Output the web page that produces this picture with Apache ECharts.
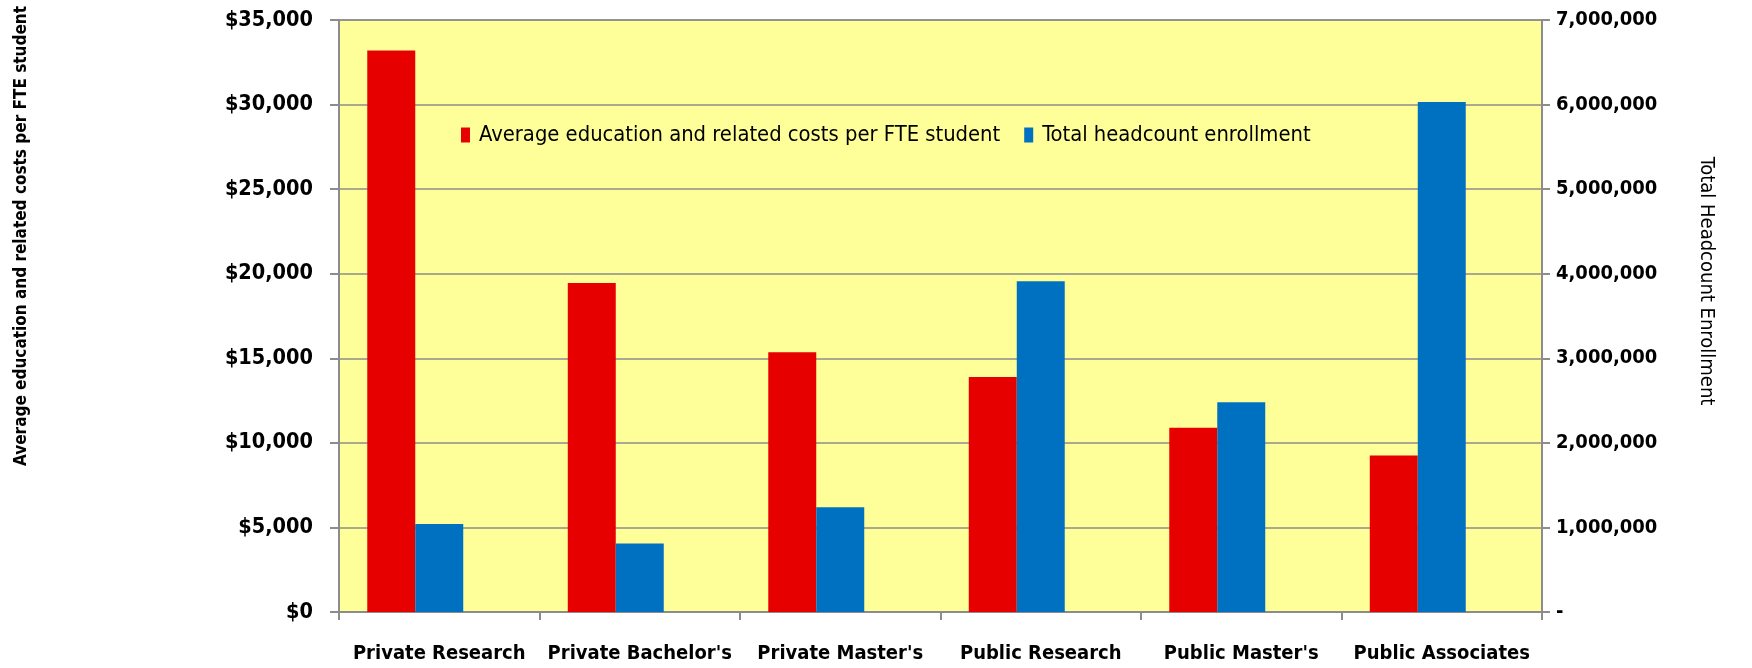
<!DOCTYPE html>
<html>
<head>
<meta charset="utf-8">
<script src="https://cdn.jsdelivr.net/npm/echarts@6/dist/echarts.min.js"></script>
<style>
html,body{margin:0;padding:0;background:#fff;}
#chart{width:1752px;height:668px;}
</style>
</head>
<body>
<div id="chart"></div>
<script>
const categories = ["Private Research", "Private Bachelor's", "Private Master's", "Public Research", "Public Master's", "Public Associates"];
const costPerFTE = [33200, 19450, 15350, 13900, 10900, 9250];
const enrollment = [1040000, 810000, 1240000, 3910000, 2480000, 6030000];
const emptySeries = [null, null, null, null, null, null];
const seriesNames = ["Average education and related costs per FTE student", "Total headcount enrollment"];
const leftAxisName = "Average education and related costs per FTE student";
const rightAxisName = "Total Headcount Enrollment";

const chart = echarts.init(document.getElementById('chart'), null, {renderer: 'canvas'});
const gray = '#8c8c8c';
const cond = 'DejaVu Sans Condensed, DejaVu Sans, sans-serif';
const tickFont = {fontFamily: cond, fontWeight: 'bold', fontSize: 21, color: '#000'};

chart.setOption({
  animation: false,
  backgroundColor: '#ffffff',
  grid: {left: 339, right: 210, top: 20, bottom: 56, show: true, backgroundColor: '#FFFF99', borderColor: gray, borderWidth: 1.5, containLabel: false},
  legend: {
    data: seriesNames,
    left: 456, top: 119,
    itemWidth: 9, itemHeight: 15, itemGap: 24,
    icon: 'rect',
    textStyle: {fontFamily: cond, fontSize: 21.8, color: '#000', padding: [0, 0, 0, 4]}
  },
  graphic: [
    {type: 'text', x: 22, y: 236, rotation: Math.PI / 2,
     style: {text: leftAxisName, fontFamily: cond, fontWeight: 'bold', fontSize: 17, fill: '#000', align: 'center', verticalAlign: 'middle'}},
    {type: 'text', x: 1706, y: 281, rotation: -Math.PI / 2,
     style: {text: rightAxisName, fontFamily: cond, fontSize: 20, fill: '#000', align: 'center', verticalAlign: 'middle'}}
  ],
  xAxis: {
    type: 'category',
    data: categories,
    axisLine: {lineStyle: {color: gray, width: 2}},
    axisTick: {show: true, length: 8, lineStyle: {color: gray, width: 2}},
    axisLabel: Object.assign({margin: 32, interval: 0}, tickFont, {fontSize: 20}),
    splitLine: {show: false}
  },
  yAxis: [
    {
      type: 'value', min: 0, max: 35000, interval: 5000, position: 'left',
      axisLine: {show: true, lineStyle: {color: gray, width: 2}},
      axisTick: {show: true, length: 9, lineStyle: {color: gray, width: 2}},
      axisLabel: Object.assign({margin: 26, formatter: v => '$' + v.toLocaleString('en-US')}, tickFont, {fontSize: 21.5}),
      splitLine: {show: true, lineStyle: {color: gray, width: 1.5}}
    },
    {
      type: 'value', min: 0, max: 7000000, interval: 1000000, position: 'right',
      axisLine: {show: true, lineStyle: {color: gray, width: 2}},
      axisTick: {show: true, length: 8, lineStyle: {color: gray, width: 2}},
      axisLabel: Object.assign({margin: 14, align: 'left', formatter: v => v === 0 ? '-' : v.toLocaleString('en-US')}, tickFont, {fontSize: 20}),
      splitLine: {show: false}
    }
  ],
  series: [
    {name: seriesNames[0], type: 'bar', yAxisIndex: 0, data: costPerFTE, itemStyle: {color: '#E60000'}, barGap: '0%', barCategoryGap: '28.2%'},
    {name: seriesNames[1], type: 'bar', yAxisIndex: 1, data: enrollment, itemStyle: {color: '#0070C0'}, barGap: '0%', barCategoryGap: '28.2%'},
    {name: 'spacer', type: 'bar', yAxisIndex: 0, data: emptySeries, barGap: '0%', barCategoryGap: '28.2%'}
  ]
});
</script>
</body>
</html>
